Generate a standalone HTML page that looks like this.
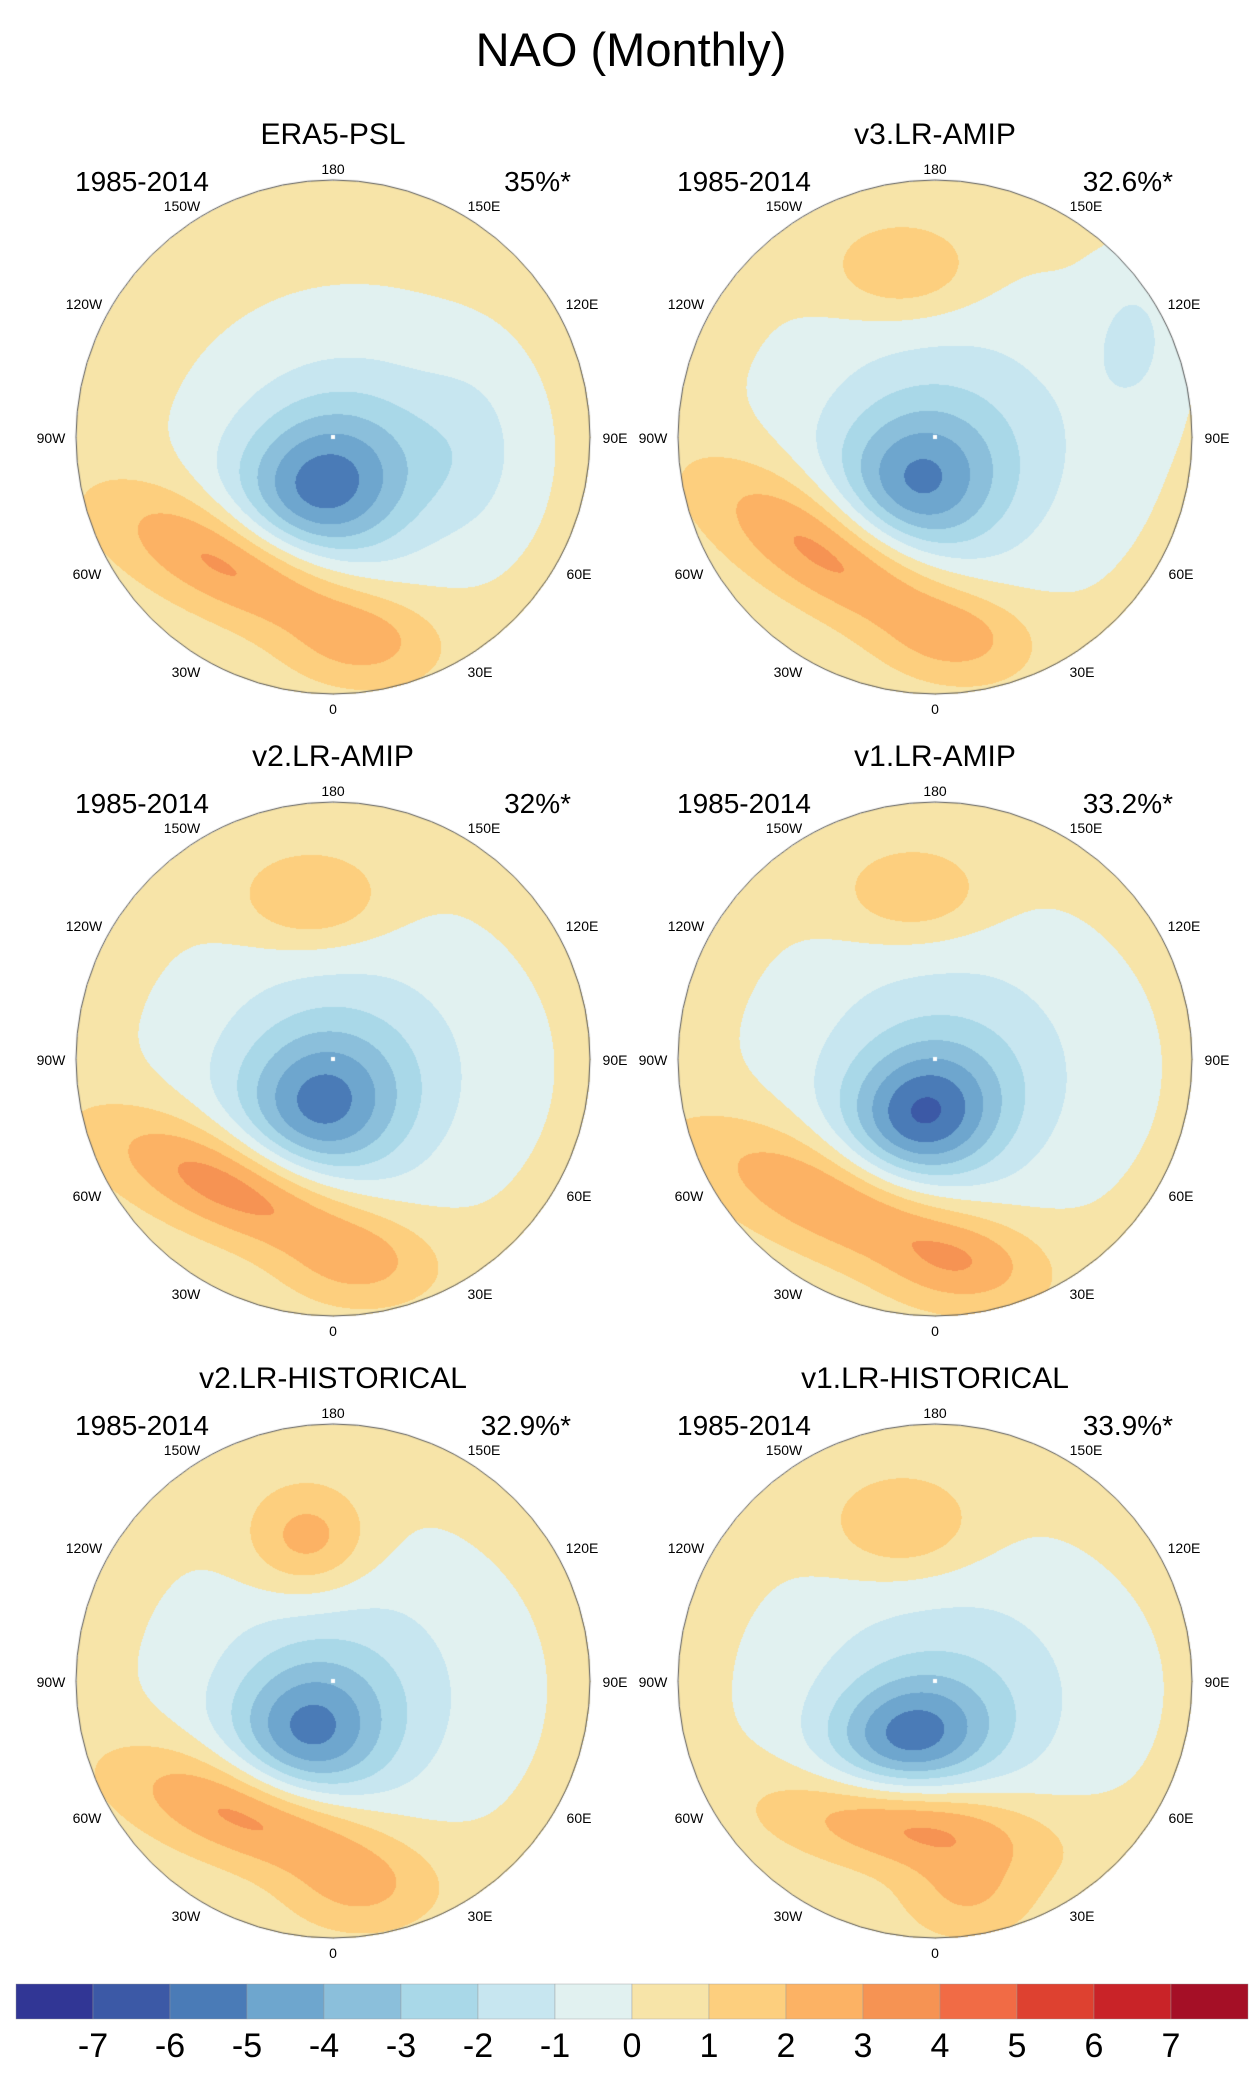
<!DOCTYPE html>
<html><head><meta charset="utf-8">
<style>
body{margin:0;background:#fff;width:1258px;height:2086px;position:relative;overflow:hidden;font-family:"Liberation Sans",sans-serif;}
.t{position:absolute;white-space:nowrap;color:#000;}
canvas{position:absolute;}
</style></head>
<body>
<div class="t" style="left:0;width:1262px;text-align:center;top:22px;font-size:47px;">NAO (Monthly)</div>
<div id="root"></div>
<svg id="cb" width="1258" height="2086" style="position:absolute;left:0;top:0;pointer-events:none"></svg>
<script>
const panelNames=["ERA5-PSL","v3.LR-AMIP","v2.LR-AMIP","v1.LR-AMIP","v2.LR-HISTORICAL","v1.LR-HISTORICAL"];
const panelPct=["35%*","32.6%*","32%*","33.2%*","32.9%*","33.9%*"];
const panelPeriod="1985-2014";
const baseValue=0.4;
// blobs per panel: [x, y, amplitude, sigmaAlong, sigmaAcross, rotationDeg] in normalized map units
const blobsERA5=[[0.08,0.05,-2.0,0.4,0.36,0],[-0.05,0.2,-4.3,0.24,0.2,-20],[-0.36,0.5,3.7,0.36,0.14,24],[0.12,0.8,1.6,0.2,0.12,0],[0.55,0.05,-0.9,0.15,0.25,0]];
const blobsV3=[[0.05,0.02,-2.1,0.46,0.42,0],[-0.07,0.18,-3.8,0.22,0.2,-20],[-0.38,0.46,3.9,0.38,0.15,30],[0.1,0.78,1.5,0.2,0.12,0],[-0.12,-0.65,2.0,0.2,0.13,0],[0.78,-0.4,-1.3,0.13,0.22,0]];
const blobsV2=[[0.04,0.03,-2.1,0.45,0.4,0],[-0.05,0.18,-4.0,0.22,0.2,-20],[-0.36,0.5,4.0,0.38,0.14,22],[0.1,0.8,1.5,0.2,0.12,0],[-0.08,-0.62,2.1,0.2,0.13,0]];
const blobsV1=[[0.05,0.03,-2.2,0.45,0.4,0],[-0.05,0.22,-4.7,0.21,0.18,-20],[-0.34,0.56,3.4,0.42,0.15,22],[0.12,0.8,1.5,0.2,0.12,0],[-0.08,-0.64,1.9,0.2,0.13,0]];
const blobsV2H=[[0.03,0.03,-2.1,0.44,0.4,0],[-0.1,0.2,-4.0,0.21,0.19,-20],[-0.3,0.52,3.9,0.36,0.14,18],[0.1,0.82,1.5,0.2,0.12,0],[-0.1,-0.55,2.6,0.17,0.15,0]];
const blobsV1H=[[0.05,0.03,-2.1,0.46,0.38,0],[-0.1,0.22,-4.3,0.22,0.16,-10],[-0.1,0.55,3.7,0.36,0.13,8],[0.12,0.84,1.6,0.18,0.12,0],[-0.12,-0.6,2.0,0.2,0.14,0]];
const panelBlobs=[blobsERA5,blobsV3,blobsV2,blobsV1,blobsV2H,blobsV1H];
const levels=[-7,-6,-5,-4,-3,-2,-1,0,1,2,3,4,5,6,7];
const colors=["#313695","#3c59a6","#4a7bb7","#6ea6ce","#8bbfdb","#a9d8e8","#c7e6f0","#e1f1f0","#f7e4a8","#fdcf7e","#fcb264","#f69353","#f16b45","#de4130","#c92328","#a50f26"];
const lonLabels=["180","150W","120W","90W","60W","30W","0","30E","60E","90E","120E","150E"];
const lonOffsets=[[0,-269],[-151,-232],[-249,-134],[-282,0],[-246,136],[-147,234],[0,271],[147,234],[246,136],[282,0],[249,-134],[151,-232]];
const R=257, cxs=[333,935], cys=[437,1059,1681];
function rgb(h){return [parseInt(h.substr(1,2),16),parseInt(h.substr(3,2),16),parseInt(h.substr(5,2),16)];}
const crgb=colors.map(rgb);
function field(bl,x,y){let v=baseValue;for(const b of bl){const a=b[5]*Math.PI/180,dx=x-b[0],dy=y-b[1];const u=dx*Math.cos(a)+dy*Math.sin(a),w=-dx*Math.sin(a)+dy*Math.cos(a);v+=b[2]*Math.exp(-0.5*(u*u/(b[3]*b[3])+w*w/(b[4]*b[4])));}return v;}
function bin(v){let i=0;while(i<levels.length&&v>=levels[i])i++;return i;}
const root=document.getElementById('root');
function addText(txt,x,y,size,align,name){const d=document.createElement('div');d.className='t';d.textContent=txt;d.style.fontSize=size+'px';d.style.top=(y-size*0.6)+'px';
 if(align==='c'){d.style.left=(x-200)+'px';d.style.width='400px';d.style.textAlign='center';}else if(align==='r'){d.style.left=(x-400)+'px';d.style.width='400px';d.style.textAlign='right';}else d.style.left=x+'px';
 
 
 root.appendChild(d);}
panelNames.forEach((nm,p)=>{
 const cx=cxs[p%2],cy=cys[Math.floor(p/2)];
 const c=document.createElement('canvas');c.width=2*R+4;c.height=2*R+4;c.style.left=(cx-R-2)+'px';c.style.top=(cy-R-2)+'px';
 
 
 root.appendChild(c);
 const ctx=c.getContext('2d');const img=ctx.createImageData(c.width,c.height);
 for(let j=0;j<c.height;j++)for(let i=0;i<c.width;i++){const x=(i-R-2)/R,y=(j-R-2)/R;if(x*x+y*y>1)continue;const col=crgb[bin(field(panelBlobs[p],x,y))];const k=4*(j*c.width+i);img.data[k]=col[0];img.data[k+1]=col[1];img.data[k+2]=col[2];img.data[k+3]=255;}
 ctx.putImageData(img,0,0);
 ctx.beginPath();ctx.arc(R+2,R+2,R,0,2*Math.PI);ctx.strokeStyle='#555';ctx.lineWidth=1;ctx.stroke();
 ctx.fillStyle='#fff';ctx.fillRect(R,R,4,4);
 addText(nm,cx,cy-301,30,'c','panel-title-'+(p+1));
 addText(panelPeriod,cx-258,cy-254,28,'l','period-label-'+(p+1));
 addText(panelPct[p],cx+238,cy-254,28,'r','percent-label-'+(p+1));
 lonLabels.forEach((l,q)=>addText(l,cx+lonOffsets[q][0],cy+lonOffsets[q][1]+1,14,'c','lon-label-'+l.toLowerCase()));
});
const svg=document.getElementById('cb');const NS='http://www.w3.org/2000/svg';
const x0=16,x1=1248,bw=(x1-x0)/colors.length;
colors.forEach((c,i)=>{const r=document.createElementNS(NS,'rect');r.setAttribute('x',x0+i*bw);r.setAttribute('y',1984);r.setAttribute('width',bw);r.setAttribute('height',35);r.setAttribute('fill',c);r.setAttribute('stroke','#999');r.setAttribute('stroke-width','0.4');
 
 
 svg.appendChild(r);});
levels.forEach((l,i)=>{const t=document.createElementNS(NS,'text');t.setAttribute('x',x0+(i+1)*bw);t.setAttribute('y',2057);t.setAttribute('text-anchor','middle');t.setAttribute('font-size','34');t.setAttribute('font-family','Liberation Sans, sans-serif');t.textContent=l;
 
 
 svg.appendChild(t);});
</script>
</body></html>
